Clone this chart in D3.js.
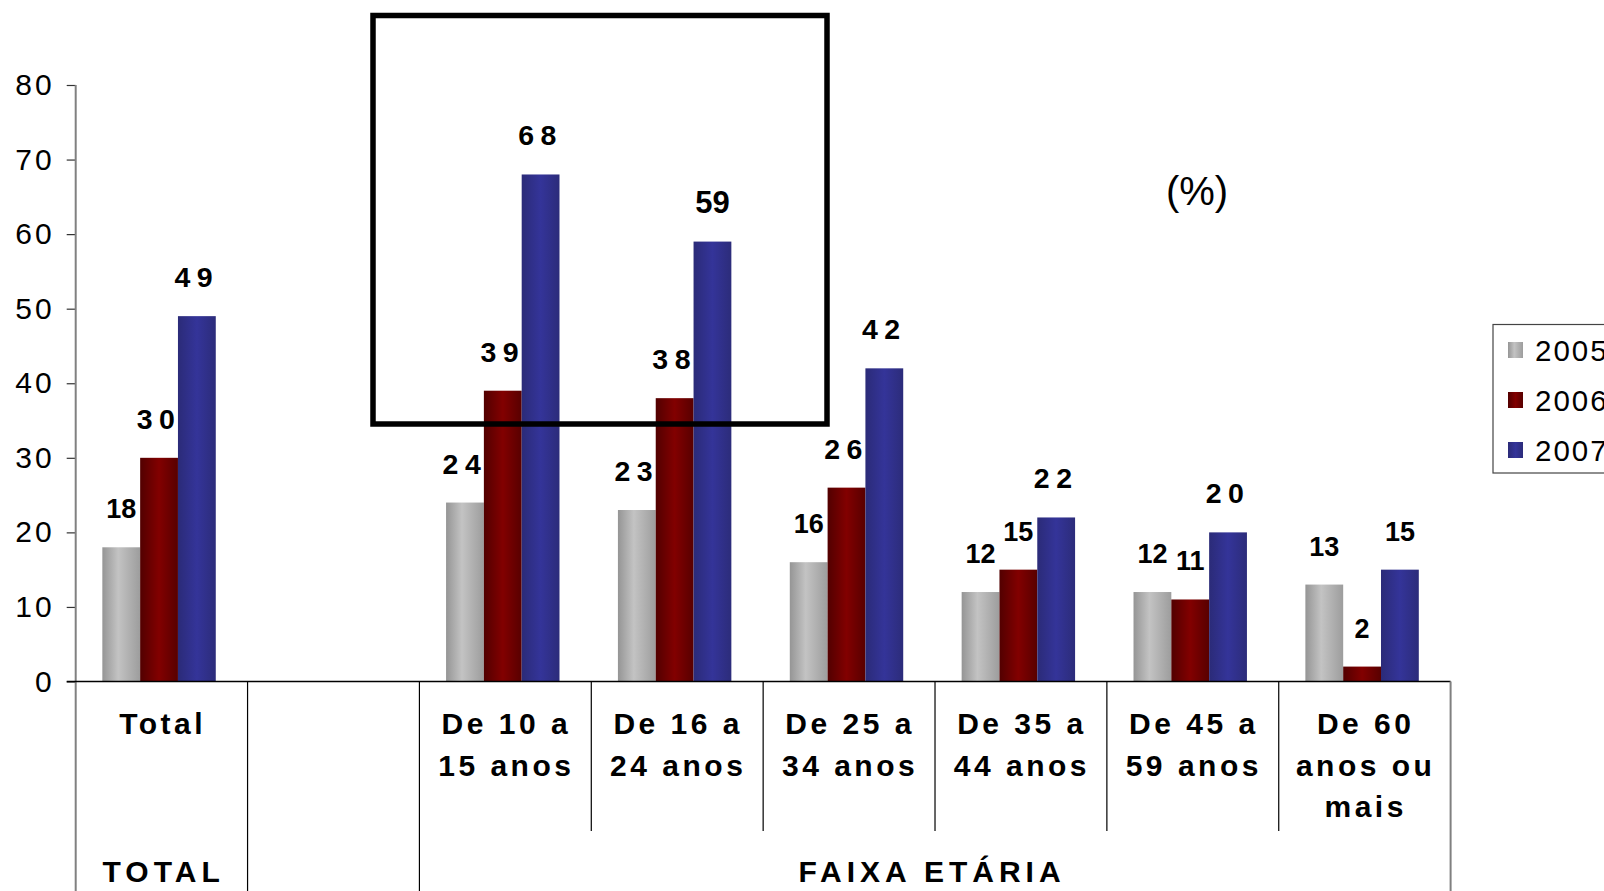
<!DOCTYPE html>
<html><head><meta charset="utf-8">
<script src="https://cdn.jsdelivr.net/npm/d3@7/dist/d3.min.js"></script>
<style>
html,body{margin:0;padding:0;background:#fff;}
svg{display:block;font-family:"Liberation Sans",Arial,sans-serif;}
</style></head>
<body>
<svg id="chart" width="1604" height="891"></svg>
<script>
// ---- data ----
const categories = ["Total", "", "De 10 a 15 anos", "De 16 a 24 anos", "De 25 a 34 anos", "De 35 a 44 anos", "De 45 a 59 anos", "De 60 anos ou mais"];
const categoryLines = [["Total"], [], ["De 10 a", "15 anos"], ["De 16 a", "24 anos"], ["De 25 a", "34 anos"], ["De 35 a", "44 anos"], ["De 45 a", "59 anos"], ["De 60", "anos ou", "mais"]];
const groupLabels = ["TOTAL", "", "FAIXA ETÁRIA"];
const groupSpans = [[0, 0], [1, 1], [2, 7]];
const years = ["2005", "2006", "2007"];
const values2005 = [18, null, 24, 23, 16, 12, 12, 13];
const values2006 = [30, null, 39, 38, 26, 15, 11, 2];
const values2007 = [49, null, 68, 59, 42, 22, 20, 15];
const yTicks = [0, 10, 20, 30, 40, 50, 60, 70, 80];

// label styling as seen in the picture: "s" = widely spaced, "n" = normal, "L" = larger normal
const labelStyle2005 = ["n", "", "s", "s", "n", "n", "n", "n"];
const labelStyle2006 = ["s", "", "s", "s", "s", "n", "n", "n"];
const labelStyle2007 = ["s", "", "s", "L", "s", "s", "s", "n"];

const seriesValues = [values2005, values2006, values2007];
const seriesStyle = [labelStyle2005, labelStyle2006, labelStyle2007];
const styleFont = {s: 28.5, n: 27, L: 31};
const styleSpacing = {s: 6.5, n: 0, L: 0};

const svg = d3.select("#chart");
const plotLeft = 75.7, plotRight = 1450.6, plotTop = 85, plotBottom = 681.5;

const x0 = d3.scaleBand().domain(d3.range(categories.length)).range([plotLeft, plotRight]).padding(0);
const bw = x0.bandwidth();
const x1 = d3.scaleBand().domain(years).range([bw * 0.155, bw * 0.815]).padding(0);
const y = d3.scaleLinear().domain([0, 80]).range([plotBottom, plotTop]);

// gradients
const defs = svg.append("defs");
const gradStops = [
  [["0", "#959595"], ["0.42", "#c3c3c3"], ["1", "#9d9d9d"]],
  [["0", "#520000"], ["0.5", "#820000"], ["1", "#580000"]],
  [["0", "#2b2b78"], ["0.5", "#343499"], ["1", "#2c2c7a"]]
];
years.forEach((yr, i) => {
  const g = defs.append("linearGradient").attr("id", "g" + yr).attr("x1", "0").attr("x2", "1").attr("y1", "0").attr("y2", "0");
  gradStops[i].forEach(s => g.append("stop").attr("offset", s[0]).attr("stop-color", s[1]));
});

// y axis
const yAxis = d3.axisLeft(y).tickValues(yTicks).tickSize(9).tickSizeOuter(0).tickPadding(12);
const ga = svg.append("g").attr("transform", `translate(${plotLeft},0)`).call(yAxis);
ga.select(".domain").remove();
ga.selectAll(".tick line").attr("stroke", "#333").attr("stroke-width", 1.2);
ga.selectAll(".tick text").attr("font-size", 30).attr("fill", "#000")
  .attr("font-family", "Liberation Sans, Arial, sans-serif").attr("letter-spacing", "3px");
svg.append("line").attr("x1", plotLeft).attr("x2", plotLeft).attr("y1", plotTop).attr("y2", 891)
  .attr("stroke", "#808080").attr("stroke-width", 2);

// bars
years.forEach((yr, si) => {
  svg.append("g").selectAll("rect")
    .data(seriesValues[si].map((v, i) => ({v, i})).filter(d => d.v !== null))
    .join("rect")
    .attr("x", d => x0(d.i) + x1(yr))
    .attr("width", x1.bandwidth())
    .attr("y", d => y(d.v))
    .attr("height", d => y(0) - y(d.v))
    .attr("fill", `url(#g${yr})`);
});

// x axis line
svg.append("line").attr("x1", plotLeft - 9).attr("x2", plotRight).attr("y1", plotBottom).attr("y2", plotBottom)
  .attr("stroke", "#000").attr("stroke-width", 1.5);

// data labels
years.forEach((yr, si) => {
  svg.append("g").selectAll("text")
    .data(seriesValues[si].map((v, i) => ({v, i, st: seriesStyle[si][i]})).filter(d => d.v !== null))
    .join("text")
    .attr("x", d => x0(d.i) + x1(yr) + x1.bandwidth() / 2)
    .attr("y", d => y(d.v) - 29)
    .attr("text-anchor", "middle")
    .attr("font-size", d => styleFont[d.st]).attr("font-weight", "bold")
    .attr("letter-spacing", d => styleSpacing[d.st] + "px")
    .text(d => d.v);
});

// category separators
const groupEnds = groupSpans.map(s => s[1]);
for (let i = 1; i < categories.length; i++) {
  const isGroup = groupEnds.includes(i - 1);
  svg.append("line").attr("x1", x0(i)).attr("x2", x0(i)).attr("y1", plotBottom).attr("y2", isGroup ? 891 : 831)
    .attr("stroke", "#000").attr("stroke-width", 1.2);
}
svg.append("line").attr("x1", plotRight).attr("x2", plotRight).attr("y1", plotBottom).attr("y2", 891)
  .attr("stroke", "#808080").attr("stroke-width", 2);

// category labels
const lineY = [723, 765, 806];
categoryLines.forEach((lines, i) => {
  const t = svg.append("text").attr("text-anchor", "middle").attr("font-size", 30).attr("font-weight", "bold")
    .attr("letter-spacing", "3.5px");
  lines.forEach((ln, k) => {
    t.append("tspan").attr("x", x0(i) + bw / 2 + 1).attr("y", lineY[k]).attr("dy", "0.35em").text(ln);
  });
});

// group labels
const groupShift = [2, 0, -3];
groupLabels.forEach((lab, gi) => {
  const [a, b] = groupSpans[gi];
  const cx = (x0(a) + x0(b) + bw) / 2;
  svg.append("text").attr("x", cx + groupShift[gi]).attr("y", 871).attr("dy", "0.35em").attr("text-anchor", "middle")
    .attr("font-size", 30).attr("font-weight", "bold").attr("letter-spacing", "5px").text(lab);
});

// highlight box
svg.append("rect").attr("x", 373).attr("y", 15.5).attr("width", 454).attr("height", 408.5)
  .attr("fill", "none").attr("stroke", "#000").attr("stroke-width", 5.5);

// (%) text
svg.append("text").attr("x", 1197).attr("y", 191).attr("dy", "0.35em").attr("text-anchor", "middle")
  .attr("font-size", 40).text("(%)");

// legend
const lg = svg.append("g");
lg.append("rect").attr("x", 1493).attr("y", 324.5).attr("width", 140).attr("height", 148.5)
  .attr("fill", "#fff").attr("stroke", "#444").attr("stroke-width", 1.2);
years.forEach((yr, i) => {
  const cy = 350 + i * 50;
  lg.append("rect").attr("x", 1508).attr("y", cy - 8).attr("width", 15).attr("height", 16).attr("fill", `url(#g${yr})`);
  lg.append("text").attr("x", 1535).attr("y", cy).attr("dy", "0.36em").attr("font-size", 29.5)
    .attr("letter-spacing", "2px").text(yr);
});
</script>
</body></html>
